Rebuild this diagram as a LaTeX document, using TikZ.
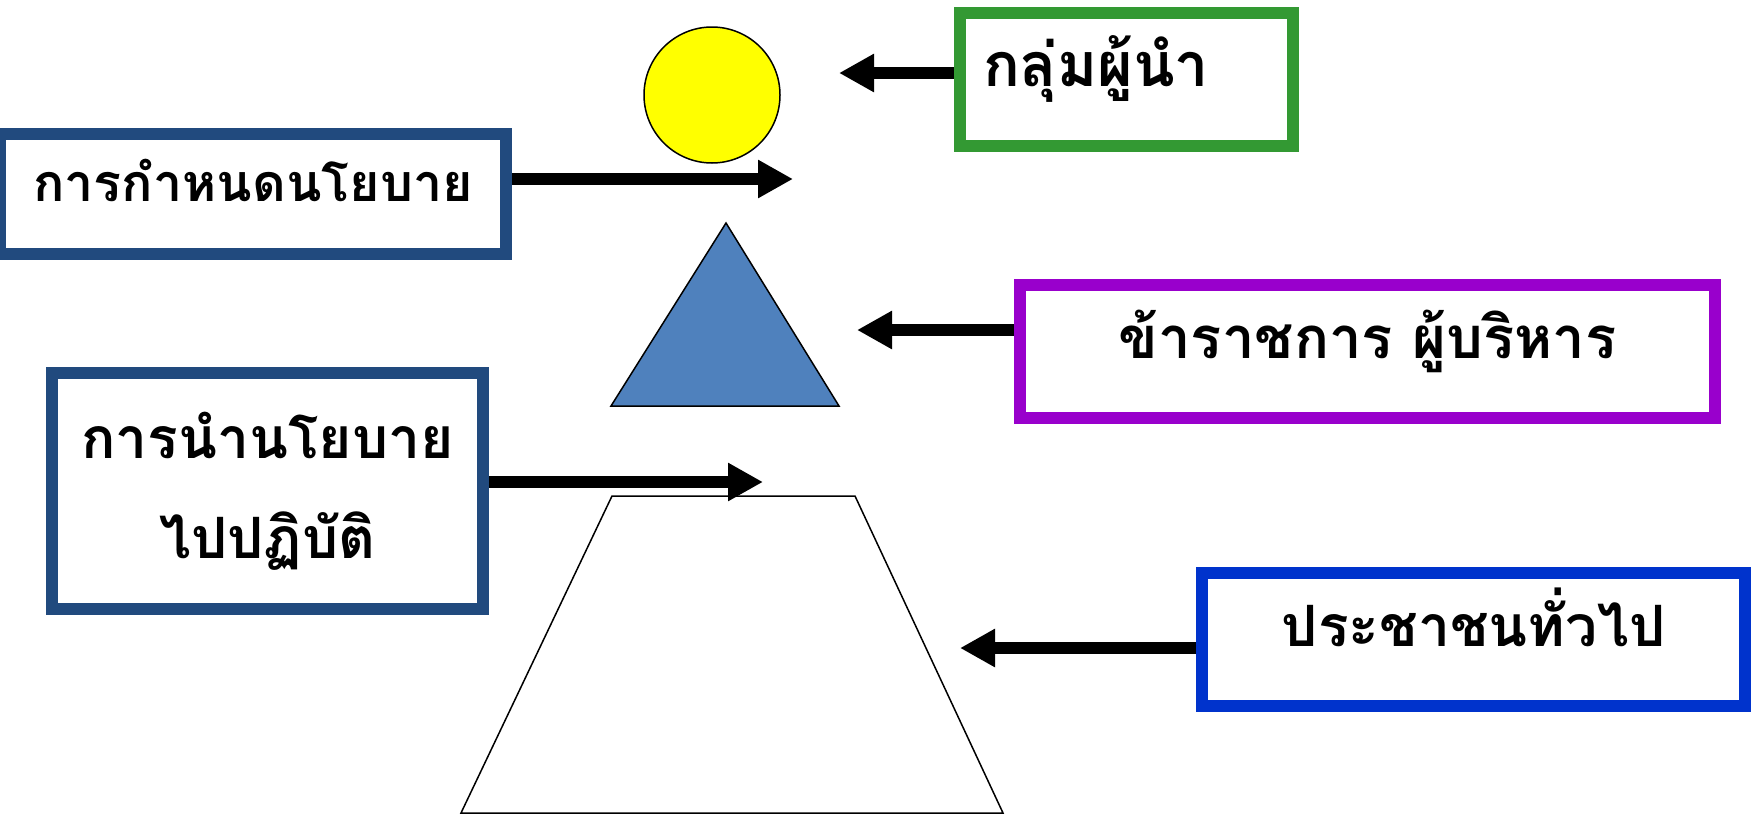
\documentclass[tikz,border=0pt]{standalone}
\usepackage{fontspec}
\newfontfamily\thaifont[Script=Thai]{Loma}
\usetikzlibrary{arrows.meta}
\definecolor{navyline}{RGB}{33,74,126}
\definecolor{leadgreen}{RGB}{51,153,51}
\definecolor{staffpurple}{RGB}{153,0,204}
\definecolor{peopleblue}{RGB}{0,51,204}
\definecolor{pyramidblue}{RGB}{79,129,189}
\definecolor{sunyellow}{RGB}{255,255,0}
\tikzset{
  labelbox/.style={draw, line width=12pt, fill=white, inner sep=0pt,
    font=\thaifont\bfseries\fontsize{#1}{100}\selectfont,
    text height=34pt, text depth=20pt},
  labelbox/.default=52,
  pointer/.style={line width=12pt, -{Triangle[length=35pt,width=36pt]}}
}
\begin{document}
\begin{tikzpicture}[x=1pt,y=-1pt]
\useasboundingbox (0,0) rectangle (1751,814);

% the three levels
\draw[fill=sunyellow, line width=1.5pt] (712,95) circle (68);
\draw[fill=pyramidblue, line width=1.5pt] (726,223) -- (839,406) -- (611,406) -- cycle;
\draw[line width=1.5pt] (612,496) -- (855,496) -- (1003,813) -- (461,813) -- cycle;

% label boxes
\node[labelbox=61, draw=leadgreen, minimum width=333pt, minimum height=133pt,
  text width=287pt, align=left] (leaders) at (1126.5,79.5) {กลุ่มผู้นำ};
\node[labelbox, draw=navyline, minimum width=506pt, minimum height=120pt] (policy) at (253,194) {การกำหนดนโยบาย};
\node[labelbox=58, draw=staffpurple, minimum width=695pt, minimum height=133pt] (staff) at (1367.5,351.5) {ข้าราชการ ผู้บริหาร};
\node[labelbox=57, draw=navyline, minimum width=431pt, minimum height=236pt,
  text height=, text depth=, align=center] (practice) at (267.5,491) {การนำนโยบาย\\ไปปฏิบัติ};
\node[labelbox=57, draw=peopleblue, minimum width=543pt, minimum height=133pt] (people) at (1473.5,639.5) {ประชาชนทั่วไป};

% arrow tips
\coordinate (tipL) at (839,73);
\coordinate (tipP) at (793,179);
\coordinate (tipS) at (857,330);
\coordinate (tipI) at (763,482);
\coordinate (tipG) at (960,648);

\draw[pointer] (leaders.west |- tipL) -- (tipL);
\draw[pointer] (policy.east |- tipP) -- (tipP);
\draw[pointer] (staff.west |- tipS) -- (tipS);
\draw[pointer] (practice.east |- tipI) -- (tipI);
\draw[pointer] (people.west |- tipG) -- (tipG);
\end{tikzpicture}
\end{document}
